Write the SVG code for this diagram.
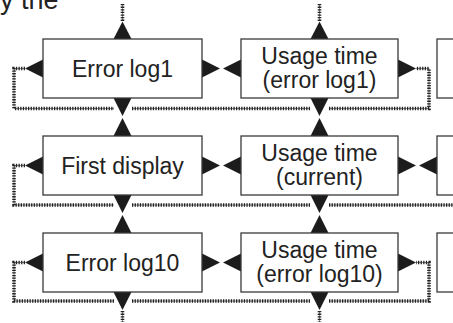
<svg xmlns="http://www.w3.org/2000/svg" width="453" height="323" viewBox="0 0 453 323">
<style>
.box{fill:#fff;stroke:#3a3a3a;stroke-width:1.3}
.t{font-family:"Liberation Sans",Arial,sans-serif;font-size:23px;fill:#222;text-anchor:middle}
.tri{fill:#1c1c1c}
.dl{fill:none;stroke:#888;stroke-width:1}
.dd{fill:none;stroke:#222;stroke-width:3.6;stroke-dasharray:1.3 1.3}
</style>
<rect width="453" height="323" fill="#fff"/>
<text x="0" y="9" style="font-family:'Liberation Sans',Arial,sans-serif;font-size:27px;fill:#222">y the</text>
<g id="connectors">
  <g class="dl">
    <path d="M25,68.5H14V108.5H114M132,108.5H310M329,108.5H429V68.5H416"/>
    <path d="M25,165.5H14V205H114M132,205H310M329,205H453"/>
    <path d="M25,262.5H14V301H114M132,301H310M329,301H429V262.5H416"/>
    <path d="M122.5,4V21M319.5,4V21M122.5,311V322M319.5,311V322"/>
  </g>
  <g class="dd">
    <path d="M25,68.5H14V108.5H114M132,108.5H310M329,108.5H429V68.5H416"/>
    <path d="M25,165.5H14V205H114M132,205H310M329,205H453"/>
    <path d="M25,262.5H14V301H114M132,301H310M329,301H429V262.5H416"/>
    <path d="M122.5,4V21M319.5,4V21M122.5,311V322M319.5,311V322"/>
  </g>
  <g class="tri">
    <path d="M43,59.5L25,68.5L43,77.5Z"/>
    <path d="M202,59.5L220,68.5L202,77.5Z"/>
    <path d="M241,59.5L223,68.5L241,77.5Z"/>
    <path d="M398,59.5L416,68.5L398,77.5Z"/>
    <path d="M113.5,39L122.5,21.5L131.5,39Z"/>
    <path d="M310.5,39L319.5,21.5L328.5,39Z"/>
    <path d="M113.5,98L122.5,116L131.5,98Z"/>
    <path d="M310.5,98L319.5,116L328.5,98Z"/>
    <path d="M43,156.5L25,165.5L43,174.5Z"/>
    <path d="M202,156.5L220,165.5L202,174.5Z"/>
    <path d="M241,156.5L223,165.5L241,174.5Z"/>
    <path d="M398,156.5L416,165.5L398,174.5Z"/>
    <path d="M437,156.5L419,165.5L437,174.5Z"/>
    <path d="M113.5,136L122.5,118L131.5,136Z"/>
    <path d="M310.5,136L319.5,118L328.5,136Z"/>
    <path d="M113.5,195L122.5,213L131.5,195Z"/>
    <path d="M310.5,195L319.5,213L328.5,195Z"/>
    <path d="M43,253.5L25,262.5L43,271.5Z"/>
    <path d="M202,253.5L220,262.5L202,271.5Z"/>
    <path d="M241,253.5L223,262.5L241,271.5Z"/>
    <path d="M398,253.5L416,262.5L398,271.5Z"/>
    <path d="M113.5,233L122.5,215L131.5,233Z"/>
    <path d="M310.5,233L319.5,215L328.5,233Z"/>
    <path d="M113.5,292L122.5,310L131.5,292Z"/>
    <path d="M310.5,292L319.5,310L328.5,292Z"/>
  </g>
</g>
<g id="error-log1">
  <rect class="box" x="43" y="39" width="159" height="59"/>
  <text class="t" x="122.5" y="77">Error log1</text>
</g>
<g id="usage-time-error-log1">
  <rect class="box" x="241" y="39" width="157" height="59"/>
  <text class="t" x="319.5" y="64">Usage time</text>
  <text class="t" x="319.5" y="88">(error log1)</text>
</g>
<g id="right-box-1">
  <rect class="box" x="437" y="39" width="40" height="59"/>
</g>
<g id="first-display">
  <rect class="box" x="43" y="136" width="159" height="59"/>
  <text class="t" x="122.5" y="174">First display</text>
</g>
<g id="usage-time-current">
  <rect class="box" x="241" y="136" width="157" height="59"/>
  <text class="t" x="319.5" y="161">Usage time</text>
  <text class="t" x="319.5" y="185">(current)</text>
</g>
<g id="right-box-2">
  <rect class="box" x="437" y="136" width="40" height="59"/>
</g>
<g id="error-log10">
  <rect class="box" x="43" y="233" width="159" height="59"/>
  <text class="t" x="122.5" y="271">Error log10</text>
</g>
<g id="usage-time-error-log10">
  <rect class="box" x="241" y="233" width="157" height="59"/>
  <text class="t" x="319.5" y="258">Usage time</text>
  <text class="t" x="319.5" y="282">(error log10)</text>
</g>
<g id="right-box-3">
  <rect class="box" x="437" y="233" width="40" height="59"/>
</g>
</svg>
